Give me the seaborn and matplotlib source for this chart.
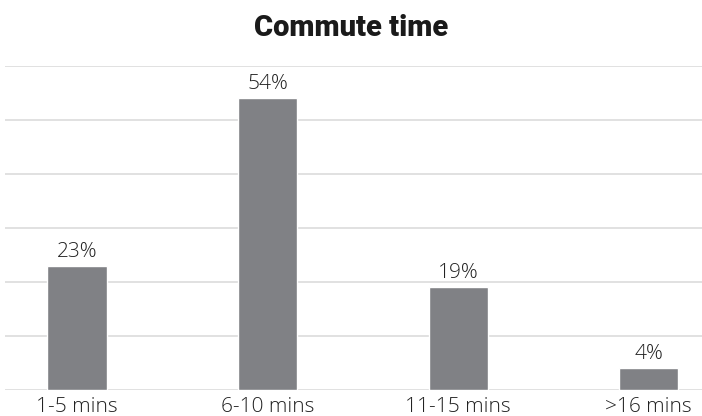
import matplotlib
matplotlib.use("Agg")
import matplotlib.pyplot as plt
import seaborn as sns
import pandas as pd

# Chart data
categories = ["1-5 mins", "6-10 mins", "11-15 mins", ">16 mins"]
shares = [23, 54, 19, 4]
bar_labels = ["23%", "54%", "19%", "4%"]

df = pd.DataFrame({"commute": categories, "share": shares})

sns.set_style("white")
plt.rcParams["font.family"] = ["Open Sans", "DejaVu Sans"]

fig = plt.figure(figsize=(7.02, 4.16), dpi=100)
ax = fig.add_axes([5 / 702, 26 / 416, 697 / 702, 324 / 416])

sns.barplot(data=df, x="commute", y="share", color="#808185",
            width=0.31, saturation=1, ax=ax, zorder=3)

ax.set_ylim(0, 60)
ax.set_xlim(-0.378, 3.28)
ax.set_yticks(range(0, 61, 10))
ax.yaxis.grid(True, color="#dcdcdc", linewidth=1.2, zorder=0)
ax.set_yticklabels([])
ax.tick_params(axis="both", length=0)
ax.tick_params(axis="x", labelsize=15, pad=5, labelcolor="#222222")
for t in ax.get_xticklabels():
    t.set_fontweight("light")
ax.set_xlabel("")
ax.set_ylabel("")
for s in ax.spines.values():
    s.set_visible(False)

for cont in ax.containers:
    ax.bar_label(cont, labels=bar_labels, padding=3, fontsize=15,
                 color="#222222", fontweight="light")

fig.text(0.5, 1 - 28 / 416, "Commute time", ha="center", va="center",
         fontsize=21, fontweight="black", color="#1a1a1a",
         family=["Roboto", "DejaVu Sans"])

fig.savefig("out.png", dpi=100)
